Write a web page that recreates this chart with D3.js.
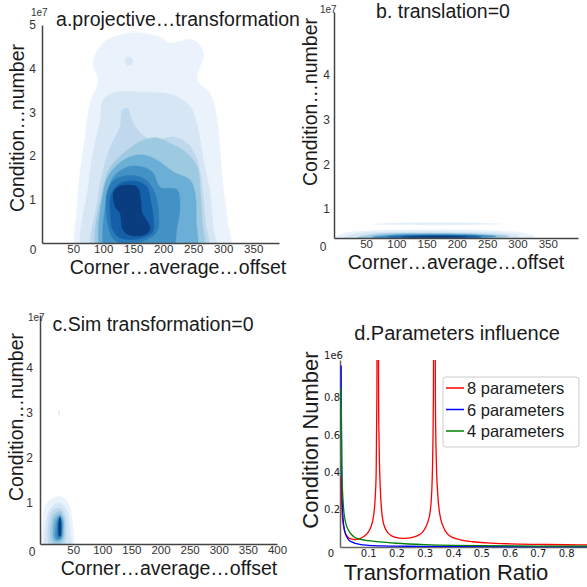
<!DOCTYPE html>
<html>
<head>
<meta charset="utf-8">
<script src="https://cdn.jsdelivr.net/npm/d3@7"></script>
<style>
  body { margin: 0; background: #fff; }
  svg { display: block; }
</style>
</head>
<body>
<div id="chart"></div>
<script>
// ---------------- data ----------------
// filled KDE levels, points are [corner average offset, condition number / 1e7]
var blues = ["#eaf2fb", "#d6e6f4", "#c0d8ed", "#9ecae1", "#6baed6", "#4292c6", "#2a7ab9", "#1460a8", "#0a3d80"];

var projLevels = [
  [[60,-0.3],[57,0.9],[62,1.67],[70,2.43],[78,3.21],[92,3.74],[83,4.13],[100,4.59],[128,4.77],[157,4.82],[195,4.72],[212,4.59],[250,4.66],[267,4.36],[257,3.74],[278,3.44],[290,2.82],[295,2.06],[300,1.28],[307,0.53],[310,-0.3],[185,-0.5]],
  [[68,-0.3],[75,1.28],[83,2.06],[95,2.82],[100,3.28],[117,3.44],[167,3.46],[217,3.39],[245,3.12],[257,2.66],[267,1.9],[278,1.15],[283,0.37],[287,-0.3],[178,-0.5]],
  [[83,-0.3],[90,0.92],[100,1.67],[112,2.2],[128,2.66],[132,3.05],[140,3.1],[148,2.82],[162,2.52],[183,2.36],[217,2.43],[240,2.29],[257,1.9],[265,1.28],[270,0.53],[273,-0.3],[178,-0.5]],
  [[92,-0.3],[98,1.15],[112,1.74],[140,2.13],[167,2.36],[190,2.41],[217,2.25],[240,2.06],[257,1.74],[262,1.15],[265,0.53],[265,-0.3],[178,-0.5]],
  [[100,-0.3],[100,1.15],[112,1.61],[140,1.95],[167,2.02],[190,1.9],[217,1.63],[245,1.44],[253,1.15],[255,0.53],[253,-0.3],[178,-0.5]],
  [[106,-0.3],[106,1.05],[117,1.51],[140,1.74],[167,1.74],[183,1.61],[195,1.28],[223,1.22],[228,0.83],[223,0.37],[212,-0.3],[160,-0.5]],
  [[107,0.5],[107,1.18],[120,1.46],[145,1.55],[170,1.46],[186,1.15],[192,0.69],[189,0.25],[160,0.02],[120,0.06]],
  [[113,0.5],[113,1.1],[127,1.36],[153,1.42],[172,1.3],[180,0.9],[184,0.5],[182,0.25],[160,0.1],[128,0.12],[116,0.3]],
  [[117,1.15],[125,1.28],[140,1.33],[157,1.28],[162,1.05],[165,0.69],[175,0.46],[178,0.3],[167,0.18],[145,0.18],[133,0.3],[128,0.69],[120,0.83]]
];
var projSpots = [
  [[136,4.17],[139,4.25],[143,4.27],[147,4.25],[150,4.17],[147,4.09],[143,4.07],[139,4.09]]
];

var transLevels = [
  [[-5,0.3],[10,0.44],[50,0.51],[150,0.535],[250,0.52],[305,0.47],[328,0.38],[315,0.25],[150,0.2],[5,0.22]],
  [[12,0.34],[35,0.45],[100,0.49],[200,0.49],[275,0.46],[302,0.39],[285,0.3],[150,0.27],[30,0.28]],
  [[35,0.36],[70,0.44],[150,0.46],[240,0.44],[285,0.39],[250,0.33],[150,0.31],[50,0.32]],
  [[60,0.37],[100,0.425],[160,0.435],[230,0.42],[265,0.385],[220,0.35],[140,0.34],[70,0.35]],
  [[85,0.37],[130,0.405],[180,0.41],[230,0.395],[240,0.375],[200,0.355],[130,0.355]],
  [[110,0.37],[150,0.39],[190,0.39],[215,0.375],[180,0.36],[130,0.36]]
];
var transSpots = [
  [[56,0.66],[90,0.685],[165,0.695],[245,0.685],[275,0.665],[245,0.645],[165,0.635],[90,0.645]],
  [[80,0.665],[165,0.68],[250,0.67],[165,0.655]]
];

var simLevels = [
  [[1,-0.3],[-2,0.6],[3,0.94],[19,1.12],[31,1.12],[41,0.99],[48,0.6],[46,-0.3]],
  [[5,-0.3],[3.3,0.56],[10,0.83],[24,0.99],[37,0.87],[43,0.56],[41,-0.3]],
  [[9,0.05],[8,0.55],[14,0.8],[26,0.88],[35,0.75],[38,0.45],[36,0.1],[24,-0.05]],
  [[13,0.12],[12,0.5],[17,0.72],[27,0.8],[33,0.7],[35,0.42],[33,0.15],[24,0.07]],
  [[17,0.17],[16,0.48],[20,0.66],[27,0.73],[32,0.63],[33,0.42],[31,0.2],[24,0.13]],
  [[20,0.2],[20,0.47],[23,0.62],[28,0.66],[31,0.58],[31,0.4],[30,0.22],[25,0.17]],
  [[23,0.24],[23,0.47],[25,0.58],[28,0.6],[30,0.53],[30,0.4],[29,0.26],[26,0.21]],
  [[25.5,0.27],[25.5,0.6],[27,0.68],[28.5,0.6],[28.5,0.27],[27,0.24]]
];
var simSpots = [
  [[24.5,3.0],[26,3.07],[27.5,3.0],[26,2.93]]
];

// tick values
var offsetTicksAB = [50, 100, 150, 200, 250, 300, 350];
var offsetTicksC = [50, 100, 150, 200, 250, 300, 350, 400];
var condTicksA = [1, 2, 3, 4, 5];
var condTicksBC = [1, 2, 3, 4];
var ratioTicks = [0.1, 0.2, 0.3, 0.4, 0.5, 0.6, 0.7, 0.8];
var cnTicks = [0.2, 0.4, 0.6, 0.8];

// d. condition number (x 1e6) vs transformation ratio
var ratio8 = [0.003,0.005,0.008,0.012,0.017,0.023,0.03,0.04,0.05,0.06,0.07,0.08,0.09,0.1,0.11,0.118,0.124,0.128,0.1305,0.1335,0.1365,0.139,0.143,0.147,0.152,0.16,0.17,0.185,0.2,0.22,0.24,0.26,0.28,0.295,0.31,0.32,0.326,0.3305,0.334,0.3375,0.341,0.346,0.355,0.365,0.38,0.4,0.43,0.47,0.52,0.6,0.7,0.8,0.92];
var cond8 = [0.38,0.27,0.17,0.115,0.082,0.062,0.05,0.043,0.04,0.041,0.045,0.052,0.063,0.08,0.11,0.16,0.25,0.4,0.8,3.0,0.8,0.5,0.3,0.2,0.14,0.1,0.075,0.058,0.05,0.046,0.047,0.053,0.065,0.085,0.13,0.2,0.35,0.8,3.0,0.8,0.45,0.28,0.16,0.11,0.07,0.05,0.037,0.028,0.022,0.017,0.014,0.012,0.011];
var ratio6 = [0.004,0.005,0.006,0.008,0.011,0.016,0.022,0.03,0.045,0.07,0.1,0.15,0.2,0.3,0.5,0.7,0.92];
var cond6 = [0.97,0.7,0.45,0.26,0.15,0.09,0.06,0.04,0.025,0.014,0.009,0.006,0.0045,0.0035,0.003,0.0025,0.002];
var ratio4 = [0.004,0.006,0.009,0.013,0.02,0.03,0.04,0.05,0.07,0.1,0.14,0.2,0.3,0.4,0.5,0.7,0.92];
var cond4 = [0.85,0.45,0.3,0.2,0.13,0.09,0.068,0.054,0.042,0.034,0.027,0.02,0.013,0.009,0.007,0.005,0.004];

var legendLabels = ["8 parameters", "6 parameters", "4 parameters"];
var lineColors = ["#ff0000", "#0000ff", "#008000"];

// ---------------- drawing ----------------
var FONT = "'Liberation Sans', Arial, Helvetica, sans-serif";
var MPL = "'DejaVu Sans', Verdana, sans-serif";

var svg = d3.select("#chart").append("svg")
  .attr("width", 587)
  .attr("height", 587);

function addText(g, txt, x, y, size, opts) {
  opts = opts || {};
  var t = g.append("text")
    .attr("x", x).attr("y", y)
    .attr("font-family", opts.font || FONT)
    .attr("font-size", size)
    .attr("fill", opts.fill || "#1a1a1a")
    .attr("text-anchor", opts.anchor || "middle")
    .text(txt);
  if (opts.rotate) {
    t.attr("x", 0).attr("y", 0)
     .attr("transform", "translate(" + x + "," + y + ") rotate(-90)");
  }
  return t;
}

function styleAxis(g, font, size, color, stroke, width) {
  g.attr("font-family", font).attr("font-size", size);
  g.selectAll("text").attr("fill", color);
  g.select(".domain").attr("stroke", stroke).attr("stroke-width", width);
  g.selectAll(".tick line").remove();
}

// seaborn kde panels
function kdePanel(p) {
  var x = d3.scaleLinear().domain(p.xDomain).range(p.xRange);
  var y = d3.scaleLinear().domain(p.yDomain).range(p.yRange);
  var g = svg.append("g");

  g.append("clipPath").attr("id", p.id + "-clip")
    .append("rect")
    .attr("x", p.xRange[0]).attr("y", p.yRange[1])
    .attr("width", p.xRange[1] - p.xRange[0])
    .attr("height", p.yRange[0] - p.yRange[1]);

  var area = d3.line()
    .x(function(d) { return x(d[0]); })
    .y(function(d) { return y(d[1]); })
    .curve(d3.curveCatmullRomClosed.alpha(0.5));

  var plot = g.append("g").attr("clip-path", "url(#" + p.id + "-clip)");
  plot.selectAll("path.level").data(p.levels).enter().append("path")
    .attr("class", "level")
    .attr("d", area)
    .attr("fill", function(d, i) { return p.colors[i]; })
    .attr("stroke", function(d, i) { return p.colors[i]; })
    .attr("stroke-width", 0.5);
  plot.selectAll("path.spot").data(p.spots).enter().append("path")
    .attr("class", "spot")
    .attr("d", area)
    .attr("fill", function(d, i) { return p.spotColors[i]; });

  var xAxis = g.append("g")
    .attr("transform", "translate(0," + p.yRange[0] + ")")
    .call(d3.axisBottom(x).tickValues(p.xTicks).tickSize(0).tickSizeOuter(0).tickPadding(2).tickFormat(d3.format("d")));
  styleAxis(xAxis, FONT, 11.5, "#333", "#444", 1.5);

  var yAxis = g.append("g")
    .attr("transform", "translate(" + p.xRange[0] + ",0)")
    .call(d3.axisLeft(y).tickValues(p.yTicks).tickSize(0).tickSizeOuter(0).tickPadding(p.yPad).tickFormat(d3.format("d")));
  styleAxis(yAxis, FONT, 12, "#333", "#444", 1.5);

  addText(g, "0", p.zero[0], p.zero[1], 12, { fill: "#333" });
  addText(g, "1e7", p.sci[0], p.sci[1], 10, { fill: "#333", anchor: "start" });
  addText(g, p.title, p.titlePos[0], p.titlePos[1], 19.5);
  addText(g, "Corner\u2026average\u2026offset", p.xLabel[0], p.xLabel[1], 19.5);
  addText(g, "Condition\u2026number", p.yLabel[0], p.yLabel[1], 19.5, { rotate: true });
}

kdePanel({
  id: "pa", xDomain: [-2, 393], xRange: [42, 279], yDomain: [0, 5], yRange: [243, 25],
  xTicks: offsetTicksAB, yTicks: condTicksA, yPad: 6,
  levels: projLevels, colors: blues, spots: projSpots, spotColors: [blues[1]],
  zero: [33, 254], sci: [31, 16],
  title: "a.projective\u2026transformation", titlePos: [178, 26],
  xLabel: [178, 273.5], yLabel: [24, 128]
});

kdePanel({
  id: "pb", xDomain: [-3, 400], xRange: [334, 578], yDomain: [0.35, 5.4], yRange: [238, 12],
  xTicks: offsetTicksAB, yTicks: condTicksBC, yPad: 4,
  levels: transLevels, colors: [blues[0], blues[1], blues[3], blues[5], blues[7], blues[8]],
  spots: transSpots, spotColors: [blues[0], "#dde9f6"],
  zero: [323, 251], sci: [320, 13],
  title: "b. translation=0", titlePos: [443, 18],
  xLabel: [456, 269], yLabel: [317, 102]
});

kdePanel({
  id: "pc", xDomain: [-7, 400], xRange: [40, 277], yDomain: [0.07, 5.18], yRange: [544, 315],
  xTicks: offsetTicksC, yTicks: condTicksBC, yPad: 7,
  levels: simLevels, colors: [blues[0], blues[1], blues[2], blues[3], blues[4], blues[5], blues[6], blues[8]],
  spots: simSpots, spotColors: ["#dfeaf6"],
  zero: [32, 556], sci: [28, 321],
  title: "c.Sim transformation=0", titlePos: [153, 331],
  xLabel: [169, 574.5], yLabel: [23, 417]
});

// matplotlib line panel
(function() {
  var x = d3.scaleLinear().domain([0, 0.92]).range([340, 600]);
  var y = d3.scaleLinear().domain([0, 1]).range([547, 360]);
  var g = svg.append("g");

  g.append("clipPath").attr("id", "pd-clip")
    .append("rect").attr("x", 338).attr("y", 360).attr("width", 262).attr("height", 188);

  var xAxis = g.append("g")
    .attr("transform", "translate(0,547)")
    .call(d3.axisBottom(x).tickValues(ratioTicks).tickSize(0).tickSizeOuter(0).tickPadding(3).tickFormat(d3.format(".1f")));
  styleAxis(xAxis, MPL, 10, "#222", "#666", 1.5);

  var yAxis = g.append("g")
    .attr("transform", "translate(340,0)")
    .call(d3.axisLeft(y).tickValues(cnTicks).tickSize(0).tickSizeOuter(0).tickPadding(0).tickFormat(d3.format(".1f")));
  styleAxis(yAxis, MPL, 10, "#222", "#666", 1.5);

  var series = [
    { r: ratio8, c: cond8 },
    { r: ratio6, c: cond6 },
    { r: ratio4, c: cond4 }
  ];
  var line = d3.line()
    .x(function(d) { return x(d[0]); })
    .y(function(d) { return y(d[1]); })
    .curve(d3.curveMonotoneX);

  g.append("g").attr("clip-path", "url(#pd-clip)")
    .selectAll("path").data(series).enter().append("path")
    .attr("d", function(s) { return line(d3.zip(s.r, s.c)); })
    .attr("fill", "none")
    .attr("stroke", function(s, i) { return lineColors[i]; })
    .attr("stroke-width", 1.3);

  addText(g, "0", 331, 557, 10, { font: MPL, fill: "#222" });
  addText(g, "1e6", 343, 359, 10, { font: MPL, fill: "#222", anchor: "end" });
  addText(g, "d.Parameters influence", 457, 340, 20);
  addText(g, "Transformation Ratio", 446, 580, 22);
  addText(g, "Condition Number", 318, 440, 22, { rotate: true });

  // legend
  var lg = g.append("g");
  lg.append("rect")
    .attr("x", 443).attr("y", 377).attr("width", 136).attr("height", 70)
    .attr("rx", 3)
    .attr("fill", "#fff").attr("fill-opacity", 0.85)
    .attr("stroke", "#cccccc").attr("stroke-width", 1);
  legendLabels.forEach(function(lab, i) {
    var by = 394 + i * 21.5;
    lg.append("line")
      .attr("x1", 446).attr("x2", 464)
      .attr("y1", by - 6).attr("y2", by - 6)
      .attr("stroke", lineColors[i]).attr("stroke-width", 1.5);
    addText(lg, lab, 467, by, 16.5, { anchor: "start" });
  });
})();
</script>
</body>
</html>
